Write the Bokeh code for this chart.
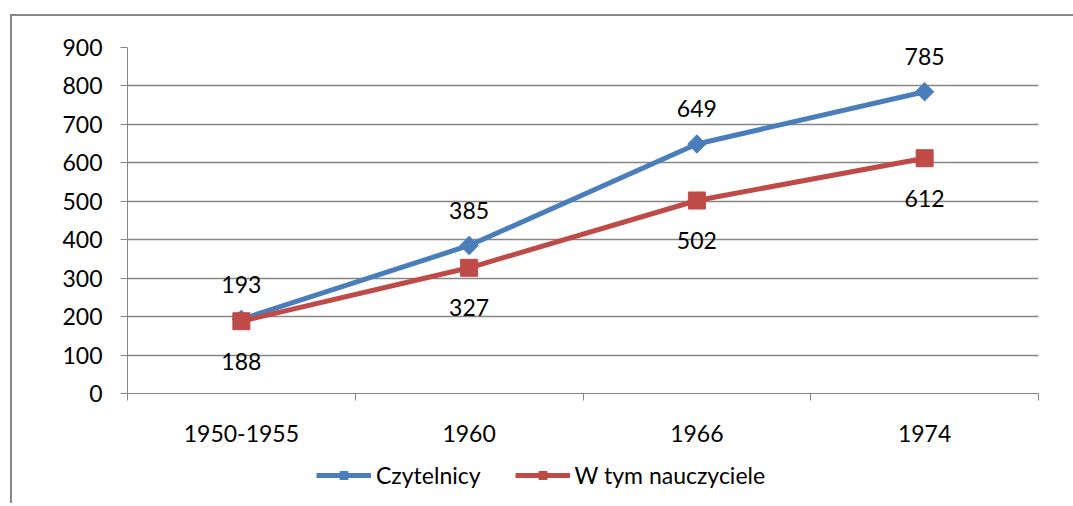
from bokeh.plotting import figure
from bokeh.layouts import column
from bokeh.models import FixedTicker, Legend, LegendItem, ColumnDataSource
from bokeh.core.properties import value
from bokeh.embed import file_html
from bokeh.resources import INLINE

categories = ["1950-1955", "1960", "1966", "1974"]
czytelnicy = [193, 385, 649, 785]
nauczyciele = [188, 327, 502, 612]
y_ticks = [0, 100, 200, 300, 400, 500, 600, 700, 800, 900]
series_names = ["Czytelnicy", "W tym nauczyciele"]

FONT = "Lato"
GREY = "#868686"
BLUE = "#4A7EBB"
RED = "#BE4B48"

xs = [i + 0.5 for i in range(len(categories))]
src = ColumnDataSource(dict(x=xs, c=czytelnicy, n=nauczyciele,
                            cl=[str(v) for v in czytelnicy],
                            nl=[str(v) for v in nauczyciele]))

p = figure(frame_width=911, frame_height=346, output_backend="svg", toolbar_location=None,
           x_range=(0, len(categories)), y_range=(0, 900),
           min_border_left=115, min_border_right=35,
           min_border_top=31, min_border_bottom=62)
p.outline_line_color = None
p.background_fill_color = "white"
p.border_fill_color = "white"

# y axis
p.yaxis.ticker = FixedTicker(ticks=y_ticks)
p.yaxis.axis_line_color = GREY
p.yaxis.major_tick_line_color = GREY
p.yaxis.major_tick_out = 7
p.yaxis.major_tick_in = 0
p.yaxis.minor_tick_line_color = None
p.yaxis.major_label_text_font = FONT
p.yaxis.major_label_text_font_size = "23px"
p.yaxis.major_label_text_color = "black"
p.yaxis.major_label_standoff = 18

# x axis
p.xaxis.ticker = FixedTicker(ticks=xs, minor_ticks=[0, 1, 2, 3, 4])
p.xaxis.major_label_overrides = {x: c for x, c in zip(xs, categories)}
p.xaxis.axis_line_color = GREY
p.xaxis.major_tick_line_color = None
p.xaxis.minor_tick_line_color = GREY
p.xaxis.minor_tick_out = 7
p.xaxis.minor_tick_in = 0
p.xaxis.major_tick_out = 0
p.xaxis.major_tick_in = 0
p.xaxis.major_label_text_font = FONT
p.xaxis.major_label_text_font_size = "23px"
p.xaxis.major_label_text_color = "black"
p.xaxis.major_label_standoff = 24

p.xgrid.grid_line_color = None
p.ygrid.ticker = FixedTicker(ticks=y_ticks)
p.ygrid.grid_line_color = GREY
p.ygrid.grid_line_width = 1.5

p.line("x", "c", source=src, line_color=BLUE, line_width=5)
p.scatter("x", "c", source=src, marker="square", angle=0.785398, size=13,
          fill_color=BLUE, line_color=BLUE)
p.line("x", "n", source=src, line_color=RED, line_width=5)
p.scatter("x", "n", source=src, marker="square", size=17, fill_color=RED, line_color=RED)

p.text("x", "c", text="cl", source=src, y_offset=-35, text_align="center",
       text_baseline="middle", text_font=value(FONT), text_font_size="23px", text_color="black")
p.text("x", "n", text="nl", source=src, y_offset=40, text_align="center",
       text_baseline="middle", text_font=value(FONT), text_font_size="23px", text_color="black")

# legend strip (separate figure so the legend sits fully inside a frame);
# its series renderers fall outside this strip's range, so only the legend shows
p2 = figure(width=115 + 911 + 35, height=48, output_backend="svg", toolbar_location=None,
            x_axis_type=None, y_axis_type=None, x_range=(0, 1), y_range=(-2, -1),
            min_border=0)
p2.outline_line_color = None
p2.xgrid.grid_line_color = None
p2.ygrid.grid_line_color = None
p2.background_fill_color = "white"
p2.border_fill_color = "white"
a1 = p2.line("x", "c", source=src, line_color=BLUE, line_width=5)
b1 = p2.scatter("x", "c", source=src, marker="square", angle=0.785398, size=13,
                fill_color=BLUE, line_color=BLUE)
a2 = p2.line("x", "n", source=src, line_color=RED, line_width=5)
b2 = p2.scatter("x", "n", source=src, marker="square", size=17, fill_color=RED, line_color=RED)

legend = Legend(items=[LegendItem(label=series_names[0], renderers=[a1, b1]),
                       LegendItem(label=series_names[1], renderers=[a2, b2])],
                orientation="horizontal", location=(189, 14),
                label_text_font=FONT, label_text_font_size="23px", label_text_color="black",
                glyph_width=55, glyph_height=20, spacing=34, label_standoff=5,
                border_line_color=None, background_fill_alpha=0, margin=0, padding=6)
p2.add_layout(legend, "center")

layout = column(p, p2, spacing=0)
layout.styles = {"margin-left": "10px", "margin-top": "14px",
                 "border-left": "2px solid #868686", "border-top": "2px solid #868686"}

open("out.html", "w").write(file_html(layout, INLINE))
